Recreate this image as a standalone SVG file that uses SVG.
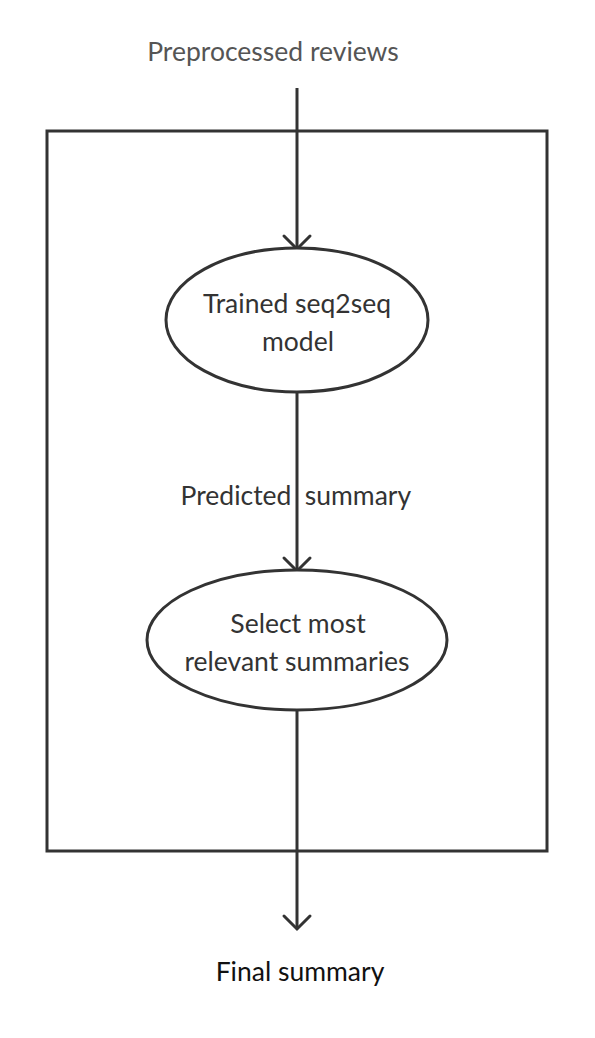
<svg xmlns="http://www.w3.org/2000/svg" width="595" height="1038" viewBox="0 0 595 1038">
<style>
.s{fill:none;stroke:#333;stroke-width:3}
.t{font-family:Lato,"Open Sans",sans-serif;font-size:26.5px;text-anchor:middle;fill:#333}
</style>
<defs>
<marker id="a" markerUnits="userSpaceOnUse" viewBox="-16 -16 20 32" refX="0" refY="0" markerWidth="20" markerHeight="32" orient="auto" overflow="visible">
<path d="M-13,-13 L0,0 L-13,13" fill="none" stroke="#333" stroke-width="3" stroke-linecap="round" stroke-linejoin="miter"/>
</marker>
</defs>
<rect x="47" y="131" width="500" height="720" class="s"/>
<g id="connectors">
<line x1="297" y1="88" x2="297" y2="249" class="s" marker-end="url(#a)"/>
<line x1="297" y1="392" x2="297" y2="571" class="s" marker-end="url(#a)"/>
<line x1="297" y1="710" x2="297" y2="929" class="s" marker-end="url(#a)"/>
</g>
<g id="n0"><text x="273" y="61" class="t" style="fill:#555">Preprocessed reviews</text></g>
<g id="n1">
<ellipse cx="297" cy="320" rx="131" ry="72" class="s" style="fill:#fff"/>
<text x="297" y="313" class="t">Trained seq2seq</text>
<text x="298" y="351" class="t">model</text>
</g>
<g id="lbl"><text x="236" y="505" class="t">Predicted</text><text x="358" y="505" class="t">summary</text></g>
<g id="n2">
<ellipse cx="297" cy="640" rx="150" ry="70" class="s" style="fill:#fff"/>
<text x="298" y="633" class="t">Select most</text>
<text x="297" y="671" class="t">relevant summaries</text>
</g>
<g id="n3"><text x="300" y="981" class="t" style="fill:#111">Final summary</text></g>
</svg>
